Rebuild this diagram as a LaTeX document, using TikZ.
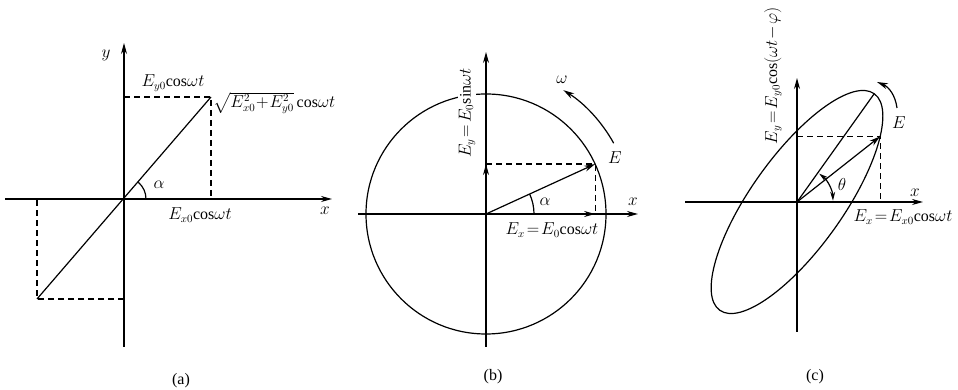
\documentclass[tikz,border=0pt]{standalone}
\usepackage{amsmath}
\usepackage{fontspec}
\setmainfont{Liberation Serif}
\usetikzlibrary{arrows.meta, positioning}
\tikzstyle{thinline} = [line width=1.2pt]
\tikzstyle{axisline} = [line width=1.2pt, -{Stealth[length=11pt,width=6pt]}]
\tikzstyle{vecarrow} = [line width=1.2pt, -{Stealth[length=11pt,width=6pt]}]
\tikzstyle{guide} = [line width=1.2pt, dash pattern=on 6pt off 4pt]
\tikzstyle{lbl} = [font=\fontsize{16}{18}\selectfont, inner sep=1pt]
\newcommand{\cs}{\mathrm{cos}}
\newcommand{\sn}{\mathrm{sin}}

\begin{document}
\begin{tikzpicture}[x=1pt, y=1pt]
  \useasboundingbox (0,0) rectangle (958,390);

  % (a) linear polarisation
  \coordinate (Oa) at (124,191);
  \coordinate (Pa) at (211,293);
  \coordinate (Qa) at (37,91);
  \coordinate (ya0) at (124,43);
  \coordinate (ya1) at (124,347);
  \coordinate (xa0) at (5,191);
  \coordinate (xa1) at (332,191);
  \draw[axisline] (ya0) -- (ya1);
  \draw[axisline] (xa0) -- (xa1);
  \draw[thinline] (Qa) -- (Pa);
  \draw[guide] (Oa |- Pa) -- (Pa) -- (Pa |- Oa);
  \draw[guide] (Oa |- Qa) -- (Qa) -- (Qa |- Oa);
  \draw[thinline] ([shift={(0:22)}]Oa) arc (0:49.5:22);
  \node (ya)     [lbl] at (106,335) {$y$};
  \node (eya)    [lbl] at (173,307) {$E_{y0}\cs\omega t$};
  \node (ea)     [lbl, right=1pt of Pa, yshift=-6pt] {$\sqrt{E_{x0}^2\!+\!E_{y0}^2}\,\cs\omega t$};
  \node (alphaa) [lbl] at (159,205) {$\alpha$};
  \node (exa)    [lbl] at (200,175) {$E_{x0}\cs\omega t$};
  \node (xa)     [lbl] at (325,179) {$x$};
  \node (capa)   [lbl] at (181,9) {(a)};

  % (b) circular polarisation
  \coordinate (Ob) at (486,176);
  \coordinate (Eb) at ([shift={(24.6:120)}]Ob);
  \coordinate (yb0) at (486,43);
  \coordinate (yb1) at (486,338);
  \coordinate (xb0) at (358,176);
  \coordinate (xb1) at (638,176);
  \draw[thinline] (Ob) circle (120);
  \draw[axisline] (yb0) -- (yb1);
  \draw[axisline] (xb0) -- (xb1);
  \draw[vecarrow] (Ob) -- (Eb);
  \draw[vecarrow] (Ob) -- (Eb |- Ob);
  \draw[vecarrow] (Ob) -- (Ob |- Eb);
  \draw[guide] (Ob |- Eb) -- (Eb) -- (Eb |- Ob);
  \draw[thinline] ([shift={(0:48)}]Ob) arc (0:24.6:48);
  \draw[vecarrow] ([shift={(29:146)}]Ob) arc (29:58:146);
  \node (eyb)    [lbl, rotate=90, fill=white] at (467,277) {$E_y\!=\!E_0\sn\omega t$};
  \node (alphab) [lbl] at (545,188) {$\alpha$};
  \node (xb)     [lbl] at (633,188) {$x$};
  \node (eb)     [lbl] at (615,232) {$E$};
  \node (omegab) [lbl] at (562,310) {$\omega$};
  \node (exb)    [lbl] at (552,160) {$E_x\!=\!E_0\cs\omega t$};
  \node (capb)   [lbl] at (493,13) {(b)};

  % (c) elliptical polarisation
  \coordinate (Oc) at (797,188);
  \coordinate (yc0) at (797,58);
  \coordinate (yc1) at (797,312);
  \coordinate (xc0) at (685,188);
  \coordinate (xc1) at (923,188);
  \begin{scope}[shift={(Oc)}, rotate=54.5]
    \draw[thinline] (0,0) ellipse [x radius=133, y radius=46];
    \coordinate (Mc) at (0:133);
    \coordinate (Ec) at (-40.1:133pt and 46pt);
  \end{scope}
  \draw[axisline] (yc0) -- (yc1);
  \draw[axisline] (xc0) -- (xc1);
  \draw[thinline] (Oc) -- (Mc);
  \draw[vecarrow] (Oc) -- (Ec);
  \draw[guide] (Oc |- Ec) -- (Ec) -- (Ec |- Oc);
  \draw[thinline, {Stealth[length=9pt,width=5pt]}-{Stealth[length=9pt,width=5pt]}]
    ([shift={(2:36)}]Oc) arc (2:52:36);
  \coordinate (rc0) at (897,282);
  \coordinate (rc1) at (877,308);
  \draw[vecarrow] (rc0) to[bend right=30] (rc1);
  \node (eyc)    [lbl, rotate=90] at (773,314) {$E_y\!=\!E_{y0}\cs(\omega t\!-\!\varphi)$};
  \node (thetac) [lbl] at (842,205) {$\theta$};
  \node (xc)     [lbl] at (915,197) {$x$};
  \node (ec)     [lbl] at (899,267) {$E$};
  \node (exc)    [lbl] at (903,173) {$E_x\!=\!E_{x0}\cs\omega t$};
  \node (capc)   [lbl] at (815,13) {(c)};
\end{tikzpicture}
\end{document}
